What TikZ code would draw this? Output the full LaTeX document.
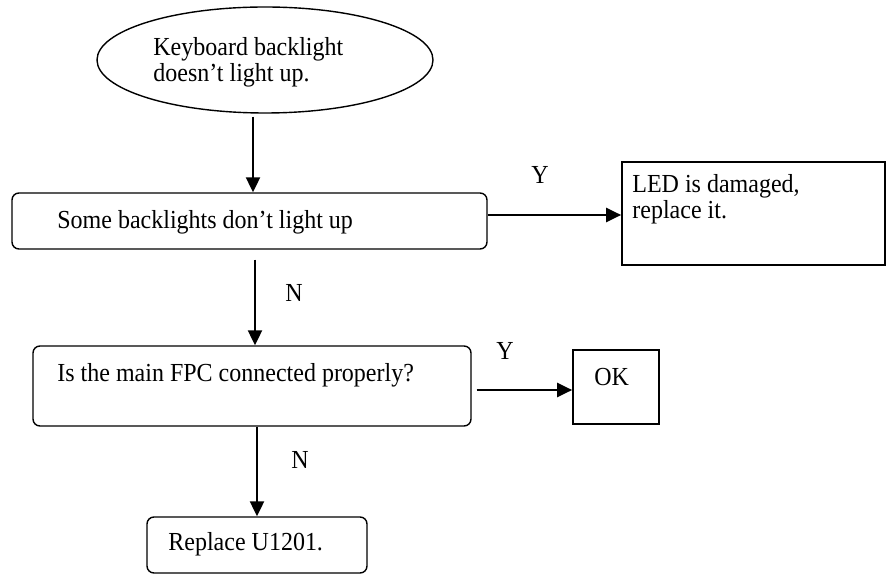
\documentclass[tikz,border=0pt]{standalone}
\usepackage{fontspec}
\setmainfont{Liberation Serif}[FakeStretch=0.923]
\usetikzlibrary{arrows.meta,shapes.geometric}
\begin{document}
\begin{tikzpicture}[x=0.5pt,y=-0.5pt,
  font=\fontsize{13}{13}\selectfont,
  frame/.style={draw,line width=0.7pt,inner sep=0pt},
  roundbox/.style={frame,rounded corners=3.5pt},
  plainbox/.style={frame,line width=0.85pt},
  txt/.style={inner sep=0pt,anchor=west},
  flow/.style={line width=1.1pt,-{Triangle[length=7.5pt,width=7pt]}}]
\useasboundingbox (0,0) rectangle (886,576);

% shapes
\node[frame,ellipse,minimum width=168pt,minimum height=53pt] (start) at (265,60) {};
\node[roundbox,minimum width=237.5pt,minimum height=28pt] (some) at (249.5,221) {};
\node[plainbox,minimum width=131.5pt,minimum height=51.5pt] (led) at (753.5,213.5) {};
\node[roundbox,minimum width=219pt,minimum height=40pt] (fpc) at (252,386) {};
\node[plainbox,minimum width=43pt,minimum height=37pt] (ok) at (616,387) {};
\node[roundbox,minimum width=110pt,minimum height=28pt] (repl) at (257,545) {};

% texts
\node[inner sep=0pt,anchor=north west,align=left,
  font=\fontsize{13}{11}\selectfont] (starttxt) at (153,37)
  {Keyboard backlight\\doesn’t light up.};
\node[txt] (sometxt) at (57,222) {Some backlights don’t light up};
\node[inner sep=0pt,anchor=north west,align=left,
  font=\fontsize{13}{10}\selectfont] (ledtxt) at (632,174)
  {LED is damaged,\\replace it.};
\node[txt] (fpctxt) at (57,375) {Is the main FPC connected properly?};
\node[txt] (oktxt) at (594,377) {OK};
\node[txt] (repltxt) at (168,544) {Replace U1201.};

% branch labels
\node[inner sep=0pt] (y1) at (540,175) {Y};
\node[inner sep=0pt] (n1) at (294,293) {N};
\node[inner sep=0pt] (y2) at (505,351) {Y};
\node[inner sep=0pt] (n2) at (300,460) {N};

% connector lines
\coordinate (c1) at (253,0);
\coordinate (c2) at (255,0);
\coordinate (c3) at (257,0);
\coordinate (r1) at (0,215);
\coordinate (r2) at (0,390);

\draw[flow,shorten <=1.5pt] (start.south -| c1) -- (some.north -| c1);
\draw[flow] (some.east |- r1) -- (led.west |- r1);
\draw[flow,shorten <=5pt] (some.south -| c2) -- (fpc.north -| c2);
\draw[flow,shorten <=2.5pt] (fpc.east |- r2) -- (ok.west |- r2);
\draw[flow] (fpc.south -| c3) -- (repl.north -| c3);
\end{tikzpicture}
\end{document}
